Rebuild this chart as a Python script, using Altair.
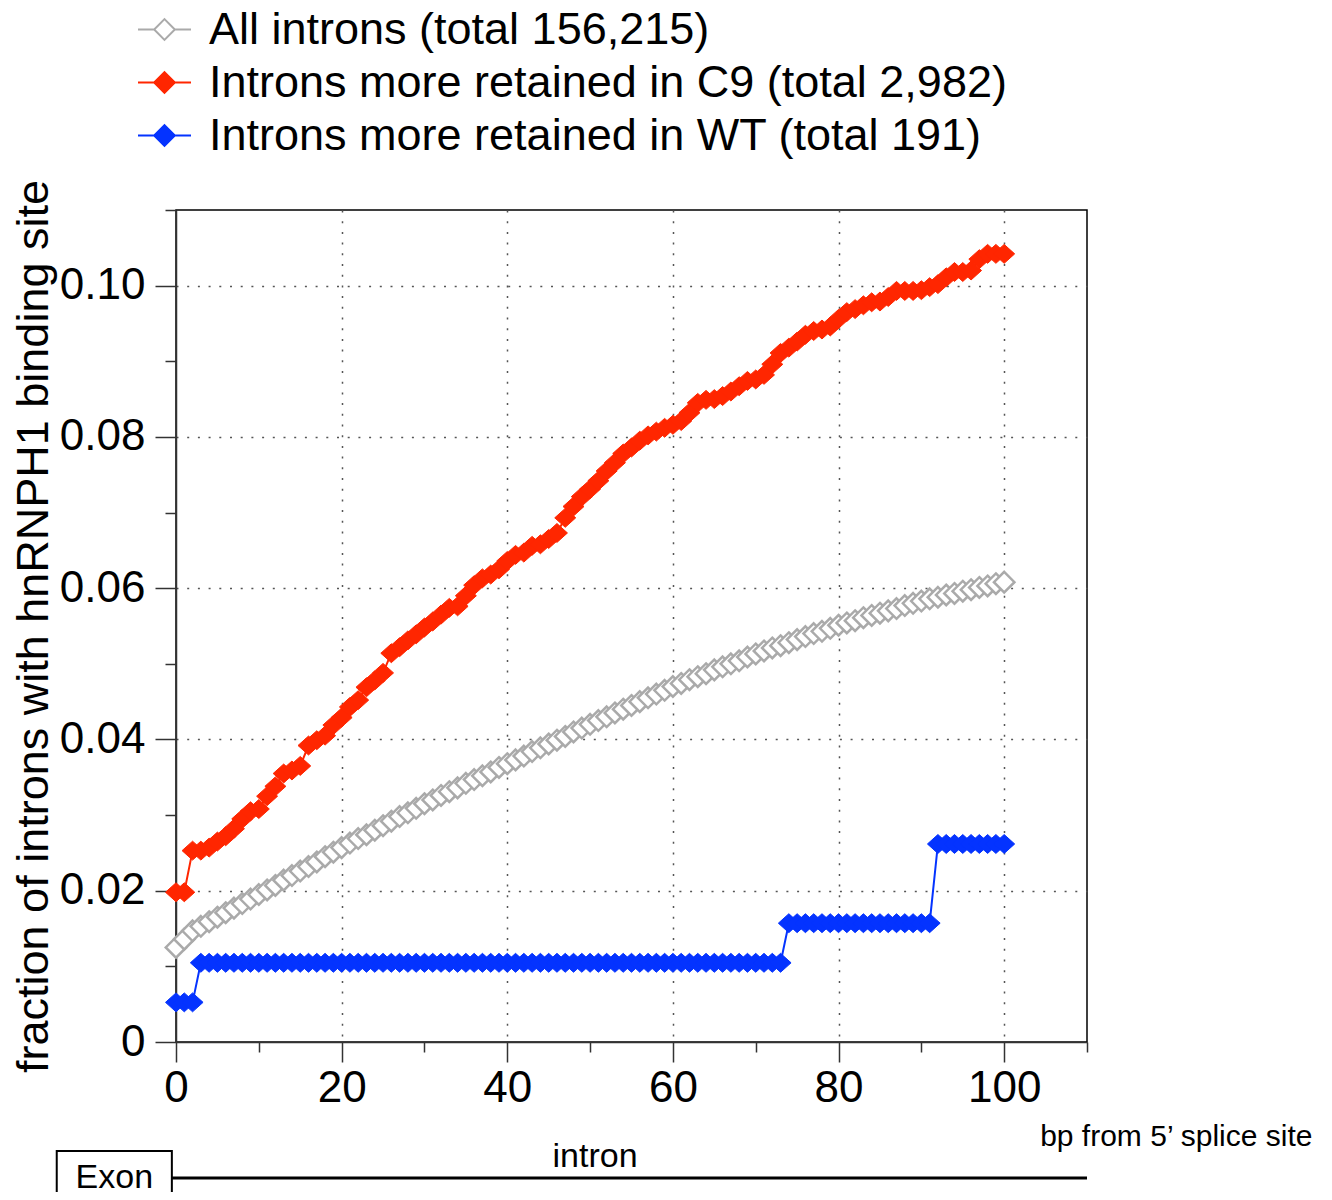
import altair as alt
import pandas as pd

FONT = "Liberation Sans"

series_names = [
    "All introns (total 156,215)",
    "Introns more retained in C9 (total 2,982)",
    "Introns more retained in WT (total 191)",
]
series_stroke = ["#aaaaaa", "#ff2600", "#0433ff"]
series_fill = ["#ffffff", "#ff2600", "#0433ff"]

bp = list(range(101))

all_introns = [
    0.0125, 0.0136, 0.0147, 0.0153, 0.0159, 0.0165, 0.0171, 0.0177, 0.0183, 0.0189, 0.0195,
    0.0201, 0.0207, 0.0214, 0.0220, 0.0226, 0.0232, 0.0238, 0.0245, 0.0251, 0.0257,
    0.0263, 0.0269, 0.0274, 0.0280, 0.0286, 0.0292, 0.0298, 0.0303, 0.0309, 0.0315,
    0.0320, 0.0326, 0.0331, 0.0336, 0.0342, 0.0347, 0.0352, 0.0357, 0.0363, 0.0368,
    0.0373, 0.0378, 0.0384, 0.0389, 0.0394, 0.0399, 0.0404, 0.0410, 0.0415, 0.0420,
    0.0425, 0.0430, 0.0435, 0.0440, 0.0445, 0.0450, 0.0455, 0.0460, 0.0465, 0.0470,
    0.0474, 0.0479, 0.0483, 0.0487, 0.0492, 0.0496, 0.0500, 0.0504, 0.0509, 0.0513,
    0.0517, 0.0521, 0.0524, 0.0528, 0.0532, 0.0536, 0.0540, 0.0543, 0.0547, 0.0551,
    0.0554, 0.0557, 0.0561, 0.0564, 0.0567, 0.0570, 0.0573, 0.0577, 0.0580, 0.0583,
    0.0586, 0.0588, 0.0591, 0.0593, 0.0596, 0.0598, 0.0601, 0.0603, 0.0606, 0.0608,
]

c9_retained = [
    0.0198, 0.0198, 0.0253, 0.0253, 0.0257, 0.0265, 0.0272, 0.0282, 0.0295, 0.0305, 0.0308,
    0.0325, 0.0338, 0.0355, 0.0359, 0.0365, 0.0392, 0.0399, 0.0405, 0.0419, 0.0429,
    0.0443, 0.0452, 0.0469, 0.0478, 0.0488, 0.0514, 0.0522, 0.0531, 0.0539, 0.0548,
    0.0556, 0.0565, 0.0574, 0.0576, 0.0590, 0.0604, 0.0613, 0.0618, 0.0625, 0.0636,
    0.0644, 0.0647, 0.0656, 0.0658, 0.0665, 0.0673, 0.0693, 0.0708, 0.0721, 0.0731,
    0.0742, 0.0755, 0.0766, 0.0778, 0.0786, 0.0795, 0.0802, 0.0807, 0.0812, 0.0816,
    0.0821, 0.0832, 0.0845, 0.0849, 0.0850, 0.0854, 0.0860, 0.0867, 0.0874, 0.0876,
    0.0882, 0.0896, 0.0911, 0.0918, 0.0926, 0.0935, 0.0940, 0.0942, 0.0946, 0.0956,
    0.0965, 0.0969, 0.0974, 0.0978, 0.0979, 0.0985, 0.0993, 0.0993, 0.0993, 0.0994,
    0.0998, 0.1002, 0.1011, 0.1018, 0.1018, 0.1020, 0.1035, 0.1042, 0.1042, 0.1042,
]

wt_retained = (
    [0.00524] * 3
    + [0.01047] * 71
    + [0.01571] * 18
    + [0.02618] * 9
)

# annotation strip under the axis (x in bp)
exon_box = [-14.4, -0.5]
intron_line = [-0.5, 110]
annot_labels = ["Exon", "intron"]
annot_x = [-7.45, 50.6]
annot_y = [978, 957]

rows = []
for name, vals in zip(series_names, [all_introns, c9_retained, wt_retained]):
    for x, v in zip(bp, vals):
        rows.append({"bp": x, "frac": v, "series": name})
df = pd.DataFrame(rows)

stroke_scale = alt.Scale(domain=series_names, range=series_stroke)
fill_scale = alt.Scale(domain=series_names, range=series_fill)

DIAMOND = "M0,-0.9L1,0L0,0.9L-1,0Z"
SQ_DIAMOND = "M0,-1L1,0L0,1L-1,0Z"
LEG_SYMBOL = "M-1,0L-0.39,0M0.39,0L1,0M0,-0.39L0.39,0L0,0.39L-0.39,0Z"

leg = alt.Legend(
    title=None, orient="none", legendX=-39, legendY=-208, padding=0,
    symbolType=LEG_SYMBOL, symbolSize=2809, symbolStrokeWidth=2,
    labelFont=FONT, labelFontSize=45, labelColor="black", labelOffset=17,
    labelLimit=1200, rowPadding=2,
)

x_axis = alt.Axis(
    values=list(range(0, 111, 10)),
    labelExpr="datum.value % 20 == 0 && datum.value <= 100 ? datum.label : ''",
    tickSize={"condition": {"test": "datum.value % 20 == 0", "value": 20}, "value": 10},
    gridOpacity={"condition": {"test": "datum.value % 20 == 0 && datum.value > 0 && datum.value < 110", "value": 1}, "value": 0},
    labelPadding=4, labelBaseline="top", labelFlush=False,
    title="bp from 5\u2019 splice site", titleX=1136, titleY=103, titleAlign="right",
    titleBaseline="alphabetic", titleFontSize=30,
)
y_axis = alt.Axis(
    values=[i / 100 for i in range(12)],
    labelExpr="round(datum.value*100) % 2 == 0 && datum.value < 0.105 ? (datum.value == 0 ? '0' : format(datum.value, '.2f')) : ''",
    tickSize={"condition": {"test": "round(datum.value*100) % 2 == 0", "value": 21}, "value": 11},
    gridOpacity={"condition": {"test": "round(datum.value*100) % 2 == 0 && datum.value > 0.005 && datum.value < 0.105", "value": 1}, "value": 0},
    labelPadding=10, labelFlush=False,
    title="fraction of introns with hnRNPH1 binding site", titleX=-129, titleY=416,
    titleAngle=270, titleAlign="center", titleBaseline="alphabetic", titleFontSize=45,
)

xenc = alt.X("bp:Q", scale=alt.Scale(domain=[0, 110], nice=False, zero=False), axis=x_axis)
yenc = alt.Y("frac:Q", scale=alt.Scale(domain=[0, 0.11], nice=False, zero=False), axis=y_axis)
stroke_enc = alt.Stroke("series:N", scale=stroke_scale, legend=leg)
fill_enc = alt.Fill("series:N", scale=fill_scale, legend=leg)

base = alt.Chart(df)
lines = base.mark_line(strokeWidth=2, clip=False).encode(
    x=xenc, y=yenc, stroke=stroke_enc, detail="series:N",
)
gray_pts = base.transform_filter(
    alt.datum.series == series_names[0]
).mark_point(shape=SQ_DIAMOND, size=420, strokeWidth=2.5, filled=True, opacity=1, clip=False).encode(
    x=xenc, y=yenc, stroke=stroke_enc, fill=fill_enc,
)
color_pts = base.transform_filter(
    alt.datum.series != series_names[0]
).mark_point(shape=DIAMOND, size=441, strokeWidth=1, filled=True, opacity=1, clip=False).encode(
    x=xenc, y=yenc, stroke=stroke_enc, fill=fill_enc,
)

box_df = pd.DataFrame({"x0": [exon_box[0]], "x1": [exon_box[1]]})
box = alt.Chart(box_df).mark_rect(fill="white", stroke="black", strokeWidth=2, clip=False).encode(
    x=alt.X("x0:Q"), x2="x1:Q", y=alt.value(941), y2=alt.value(1010),
)
line_df = pd.DataFrame({"x0": [intron_line[0]], "x1": [intron_line[1]]})
strip = alt.Chart(line_df).mark_rule(color="black", strokeWidth=3, clip=False).encode(
    x=alt.X("x0:Q"), x2="x1:Q", y=alt.value(968),
)
txt_df = pd.DataFrame({"label": annot_labels, "x": annot_x, "yy": annot_y})
txt = alt.Chart(txt_df).mark_text(font=FONT, fontSize=34, color="black", baseline="alphabetic", align="center", clip=False).encode(
    x=alt.X("x:Q"), y=alt.Y("yy:Q", scale=None), text="label:N",
)

chart = alt.layer(lines, gray_pts, color_pts, strip, box, txt).properties(
    width=911, height=832,
    padding={"left": 168, "top": 202, "right": 230, "bottom": 150},
    autosize=alt.AutoSizeParams(type="none"),
).configure_view(
    stroke="black", strokeWidth=1.5,
).configure_axis(
    domainColor="#333333", domainWidth=1.5, tickColor="#333333", tickWidth=1.5,
    labelFont=FONT, labelFontSize=44, labelColor="black",
    titleFont=FONT, titleFontWeight="normal", titleColor="black",
    gridColor="#555555", gridDash=[2, 8.7], gridWidth=1.5,
).configure_text(font=FONT)

chart.save("out.html", embed_options={"renderer": "svg", "actions": False})
